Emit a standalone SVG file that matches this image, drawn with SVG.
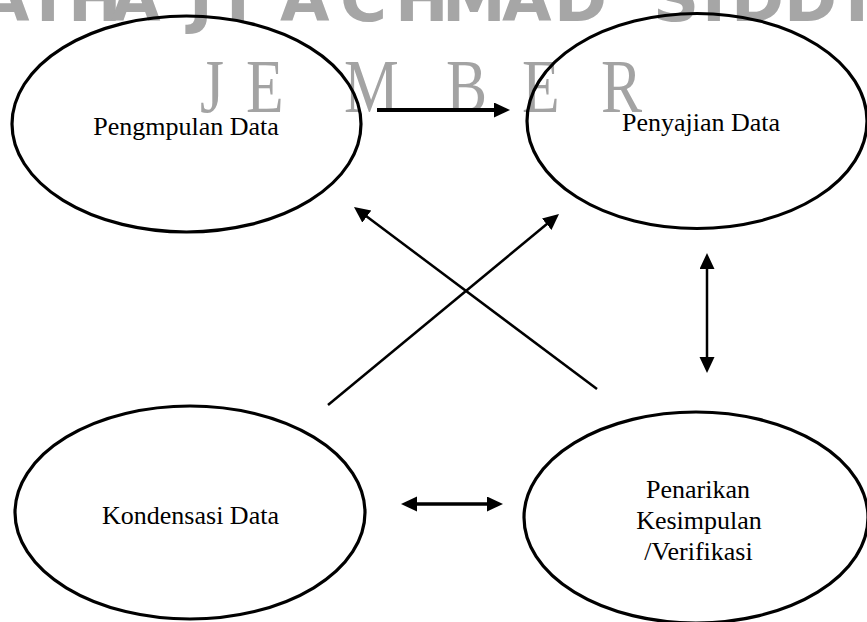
<svg xmlns="http://www.w3.org/2000/svg" width="867" height="622" viewBox="0 0 867 622">
<style>
  .wm1 { font-family: "DejaVu Sans", "Liberation Sans", sans-serif; font-weight: bold; font-size: 64px; fill: #a6a6a6; }
  .wm2 { font-family: "Liberation Serif", "Times New Roman", serif; font-size: 77px; fill: #a3a3a3; }
  .node ellipse { fill: none; stroke: #000; stroke-width: 3.2; }
  .node text { font-family: "Liberation Serif", "Times New Roman", serif; font-size: 26px; fill: #000; text-anchor: middle; }
  .conn line { stroke: #000; fill: none; }
</style>
<defs>
  <marker id="ah" markerUnits="userSpaceOnUse" markerWidth="17" markerHeight="16" refX="3" refY="7.5" orient="auto-start-reverse">
    <path d="M0,0 L16,7.5 L0,15 z" fill="#000"/>
  </marker>
</defs>
<g id="watermark">
  <text class="wm1" y="21" x="-20 36 60 68 111 189 226 260 280 340 395 442 502 554 630 653 702 731 784 845">AI HAJI ACHMAD SIDDI</text>
  <text class="wm2" y="112" transform="scale(0.8,1)" x="250 280 307.5 370 430 500 557.5 610 652.5 700 751.25">J E M B E R</text>
</g>
<g id="pengumpulan" class="node">
  <ellipse cx="186.5" cy="124" rx="174.5" ry="108"/>
  <text x="186" y="135">Pengmpulan Data</text>
</g>
<g id="penyajian" class="node">
  <ellipse cx="697" cy="121" rx="170" ry="107.5"/>
  <text x="701" y="131">Penyajian Data</text>
</g>
<g id="kondensasi" class="node">
  <ellipse cx="190" cy="512.5" rx="175" ry="106.5"/>
  <text x="190.5" y="524">Kondensasi Data</text>
</g>
<g id="penarikan" class="node">
  <ellipse cx="696" cy="517.5" rx="172" ry="105.5"/>
  <text x="698" y="498">Penarikan</text>
  <text x="699" y="529">Kesimpulan</text>
  <text x="698.5" y="560">/Verifikasi</text>
</g>
<g id="connectors" class="conn">
  <line x1="377" y1="110" x2="497" y2="110" stroke-width="4" marker-end="url(#ah)"/>
  <line x1="328" y1="405" x2="549" y2="222.3" stroke-width="2.5" marker-end="url(#ah)"/>
  <line x1="597" y1="389" x2="364.4" y2="214.8" stroke-width="2.5" marker-end="url(#ah)"/>
  <line x1="707" y1="266" x2="707" y2="360" stroke-width="2.5" marker-start="url(#ah)" marker-end="url(#ah)"/>
  <line x1="414" y1="504" x2="490" y2="504" stroke-width="3.5" marker-start="url(#ah)" marker-end="url(#ah)"/>
</g>
</svg>
